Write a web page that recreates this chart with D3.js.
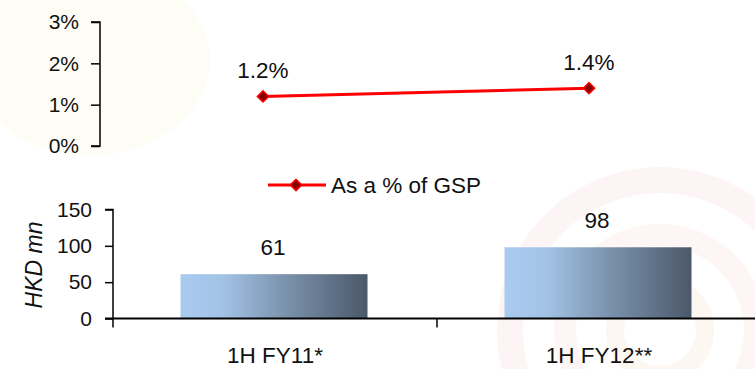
<!DOCTYPE html>
<html>
<head>
<meta charset="utf-8">
<script src="https://cdn.jsdelivr.net/npm/d3@7"></script>
<style>
  html, body { margin: 0; padding: 0; background: #fff; }
  svg { display: block; font-family: "Liberation Sans", Arial, sans-serif; }
</style>
</head>
<body>
<svg id="chart" width="755" height="369"></svg>
<script>
// Periods shown on both panels
const categories = ["1H FY11*", "1H FY12**"];
// Share of GSP (%), top panel
const gspShare = [1.2, 1.4];
// Amount in HKD mn, bottom panel
const amounts = [61, 98];
// Axis ticks
const pctTicks = [0, 1, 2, 3];
const amtTicks = [0, 50, 100, 150];
const legendLabel = "As a % of GSP";
const yAxisTitle = "HKD mn";

const svg = d3.select("#chart");
const FONT = "Liberation Sans, Arial, sans-serif";

// faint decorative backdrop rings
const deco = svg.append("g").attr("fill", "none");
deco.append("ellipse").attr("cx", 90).attr("cy", 60).attr("rx", 120).attr("ry", 95)
  .attr("fill", "#fcfcf4").attr("opacity", 0.8);
deco.append("circle").attr("cx", 660).attr("cy", 330).attr("r", 150)
  .attr("stroke", "#fdf5f5").attr("stroke-width", 26);
deco.append("circle").attr("cx", 660).attr("cy", 330).attr("r", 95)
  .attr("stroke", "#fdf6f4").attr("stroke-width", 22);
deco.append("circle").attr("cx", 660).attr("cy", 330).attr("r", 45)
  .attr("stroke", "#fdf7f1").attr("stroke-width", 18);

// gradient for bars
const defs = svg.append("defs");
const grad = defs.append("linearGradient").attr("id", "barGrad")
  .attr("x1", "0%").attr("x2", "100%").attr("y1", "0%").attr("y2", "0%");
[[0, "#aacbf0"], [0.22, "#a3c3e6"], [0.55, "#7c94ae"], [1, "#4b586a"]]
  .forEach(([o, c]) => grad.append("stop").attr("offset", o).attr("stop-color", c));

const tickFs = 21, labelFs = 22.5;

// ---------- top panel: line ----------
const xTop = d3.scaleBand().domain(categories).range([100, 752]);
const yTop = d3.scaleLinear().domain([0, 3]).range([146, 22]);
const cx = (i, s) => s(categories[i]) + s.bandwidth() / 2;

const topAxis = svg.append("g").attr("transform", "translate(100,0)")
  .call(d3.axisLeft(yTop).tickValues(pctTicks).tickFormat(d => d + "%").tickSize(9).tickPadding(12));
topAxis.select(".domain").attr("d", `M-9,${yTop(3)}H0V${yTop(0)}H-9`).attr("stroke", "#000").attr("stroke-width", 1.5);
topAxis.selectAll(".tick line").attr("stroke", "#000").attr("stroke-width", 1.5);
topAxis.selectAll(".tick text").attr("font-size", tickFs).attr("fill", "#111").attr("font-family", FONT);

const lineGen = d3.line().x((d, i) => cx(i, xTop)).y(d => yTop(d));
svg.append("path").datum(gspShare).attr("d", lineGen)
  .attr("fill", "none").attr("stroke", "#ff0000").attr("stroke-width", 3);

// square markers turned 45° to make even diamonds
const diamond = d3.symbol().type(d3.symbolSquare).size(64);
svg.selectAll(".pt").data(gspShare).join("path")
  .attr("transform", (d, i) => `translate(${cx(i, xTop)},${yTop(d)}) rotate(45)`)
  .attr("d", diamond).attr("fill", "#8b0000").attr("stroke", "#ff0000").attr("stroke-width", 1.5);

svg.selectAll(".ptlab").data(gspShare).join("text")
  .attr("x", (d, i) => cx(i, xTop))
  .attr("y", d => yTop(d) - 18)
  .attr("text-anchor", "middle").attr("font-size", labelFs).attr("fill", "#111")
  .text(d => d.toFixed(1) + "%");

// legend
const lg = svg.append("g").attr("transform", "translate(268,185)");
lg.append("line").attr("x1", 0).attr("x2", 58).attr("stroke", "#ff0000").attr("stroke-width", 3);
lg.append("path").attr("transform", "translate(28,0) rotate(45)").attr("d", diamond)
  .attr("fill", "#8b0000").attr("stroke", "#ff0000").attr("stroke-width", 1.5);
lg.append("text").attr("x", 63).attr("y", 8).attr("font-size", labelFs).attr("fill", "#111").text(legendLabel);

// ---------- bottom panel: bars ----------
const xBot = d3.scaleBand().domain(categories).range([113, 761]);
const yBot = d3.scaleLinear().domain([0, 150]).range([318.5, 209.5]);
const barW = 187;

svg.selectAll(".bar").data(amounts).join("rect")
  .attr("x", (d, i) => cx(i, xBot) - barW / 2 - 1)
  .attr("y", d => yBot(d))
  .attr("width", barW)
  .attr("height", d => yBot(0) - yBot(d))
  .attr("fill", "url(#barGrad)");

svg.selectAll(".barlab").data(amounts).join("text")
  .attr("x", (d, i) => cx(i, xBot) - 2)
  .attr("y", d => yBot(d) - 19)
  .attr("text-anchor", "middle").attr("font-size", labelFs).attr("fill", "#111")
  .text(d => d);

const botAxis = svg.append("g").attr("transform", "translate(113,0)")
  .call(d3.axisLeft(yBot).tickValues(amtTicks).tickSize(8).tickPadding(13));
botAxis.select(".domain").attr("d", `M-8,${yBot(150)}H0V${yBot(0) + 9}`).attr("stroke", "#000").attr("stroke-width", 1.5);
botAxis.selectAll(".tick line").attr("stroke", "#000").attr("stroke-width", 1.5);
botAxis.selectAll(".tick text").attr("font-size", tickFs).attr("fill", "#111").attr("font-family", FONT);

// category axis
const xAxis = svg.append("g").attr("transform", `translate(0,${yBot(0)})`)
  .call(d3.axisBottom(xBot).tickSize(0));
xAxis.select(".domain").attr("d", `M105,0H755`).attr("stroke", "#000").attr("stroke-width", 2);
xAxis.selectAll(".tick text").attr("font-size", labelFs).attr("fill", "#111")
  .attr("font-family", FONT).attr("y", 44).attr("dy", 0);
// boundary tick between the two periods
xAxis.append("line").attr("x1", xBot(categories[1])).attr("x2", xBot(categories[1]))
  .attr("y1", 0).attr("y2", 9).attr("stroke", "#000").attr("stroke-width", 1.5);

svg.append("text")
  .attr("transform", "translate(42,265) rotate(-90)")
  .attr("text-anchor", "middle").attr("font-size", 23).attr("font-style", "italic").attr("fill", "#111")
  .text(yAxisTitle);
</script>
</body>
</html>
